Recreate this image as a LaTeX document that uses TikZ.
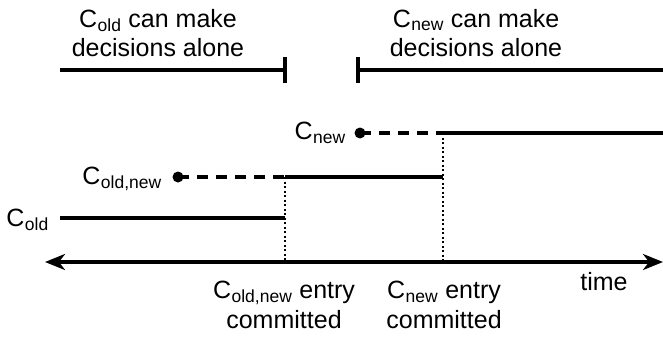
\documentclass[tikz,border=0pt]{standalone}
\usepackage{fontspec}
\setmainfont{Liberation Sans}
\usetikzlibrary{arrows.meta}
\newcommand{\sbx}[1]{\textsubscript{\hspace{0.5pt}#1}}
\begin{document}
\begin{tikzpicture}[x=1pt,y=-1pt,
  lbl/.style={font=\fontsize{25}{29.5}\selectfont, inner sep=0pt, align=center},
  thick line/.style={line width=3.2pt},
  dashline/.style={line width=3.2pt, dash pattern=on 11pt off 8pt},
  dotline/.style={line width=2pt, dash pattern=on 2pt off 2.5pt},
  dotc/.style={circle, fill=black, inner sep=0pt, minimum size=11pt},
  tickmark/.style={line width=3.2pt}]
\useasboundingbox (0,0) rectangle (663,337);
% top bars
\coordinate (l1) at (60,70);
\coordinate (l2) at (285,70);
\coordinate (r1) at (358,70);
\coordinate (r2) at (663,70);
\draw[thick line] (l1) -- (l2);
\draw[tickmark] ([yshift=-13pt]l2) -- ([yshift=13pt]l2);
\draw[thick line] (r1) -- (r2);
\draw[tickmark] ([yshift=-13pt]r1) -- ([yshift=13pt]r1);
\node[lbl] (told) at (158,33) {C\sbx{old} can make\\decisions alone};
\node[lbl] (tnew) at (476,33) {C\sbx{new} can make\\decisions alone};
% C_new level
\node[dotc] (dn) at (360,133) {};
\coordinate (n1) at (443,133);
\coordinate (n2) at (663,133);
\draw[dashline] (dn.center) -- (n1);
\draw[thick line] (n1) -- (n2);
\node[lbl, anchor=east] (lnew) at (346,133) {C\sbx{new}};
% C_old,new level
\node[dotc] (don) at (178,177) {};
\coordinate (o1) at (285,177);
\coordinate (o2) at (443,177);
\draw[dashline] (don.center) -- (o1);
\draw[thick line] (o1) -- (o2);
\node[lbl, anchor=east] (lon) at (162,179) {C\sbx{old,new}};
% C_old level
\coordinate (c1) at (60,218);
\coordinate (c2) at (285,218);
\draw[thick line] (c1) -- (c2);
\node[lbl, anchor=east] (lold) at (49,220) {C\sbx{old}};
% time axis
\coordinate (a1) at (45,262);
\coordinate (a2) at (663,262);
\coordinate (ax1) at (285,262);
\coordinate (ax2) at (443,262);
\draw[line width=3.2pt, {Stealth[length=20pt,width=16pt,inset=6pt]}-{Stealth[length=20pt,width=16pt,inset=6pt]}] (a1) -- (a2);
\draw[dotline] (o1) -- (ax1);
\draw[dotline] (n1) -- (ax2);
\node[lbl] (ttime) at (604,282) {time};
\node[lbl] (e1) at (284,305) {C\sbx{old,new} entry\\committed};
\node[lbl] (e2) at (444,305) {C\sbx{new} entry\\committed};
\end{tikzpicture}
\end{document}
